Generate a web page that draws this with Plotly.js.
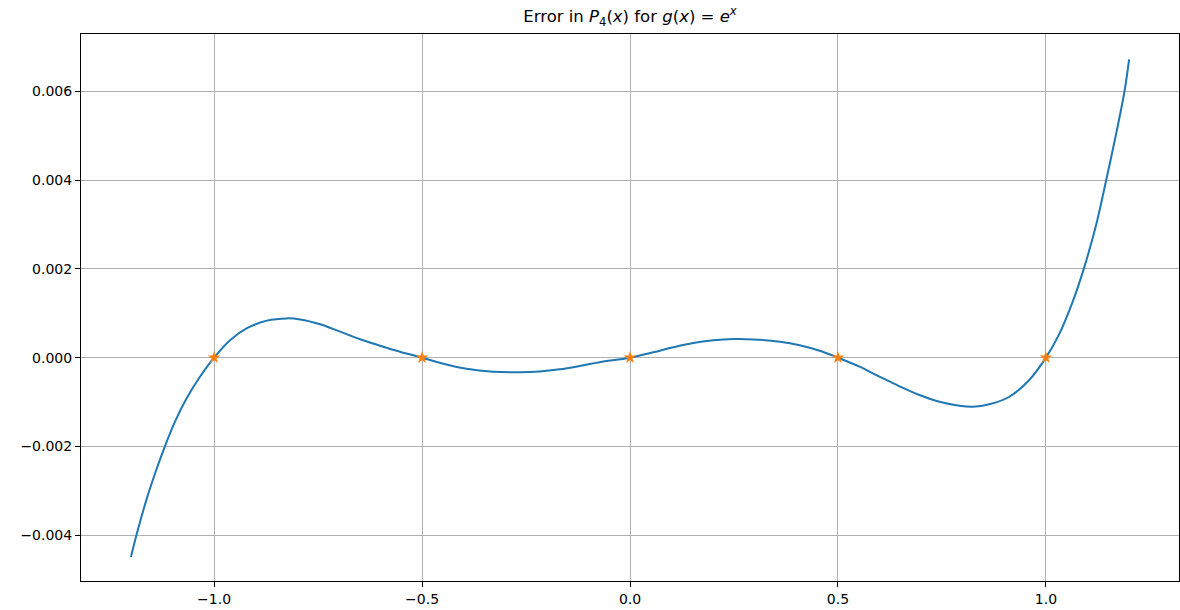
<!DOCTYPE html>
<html>
<head>
<meta charset="utf-8">
<script src="https://cdn.plot.ly/plotly-3.0.1.min.js"></script>
<style>
  html, body { margin: 0; padding: 0; background: #ffffff; }
  #chart { width: 1180px; height: 610px; }
</style>
</head>
<body>
<div id="chart"></div>
<script>
// Error curve e^x - P4(x), sampled along x
const errX = [-1.2, -1.186, -1.162, -1.141, -1.118, -1.094, -1.066, -1.034, -1.0,
  -0.961, -0.921, -0.873, -0.825, -0.793, -0.745, -0.697, -0.649, -0.601, -0.553, -0.5,
  -0.449, -0.393, -0.329, -0.265, -0.217, -0.169, -0.121, -0.073, 0.0,
  0.056, 0.104, 0.152, 0.2, 0.248, 0.296, 0.36, 0.408, 0.456, 0.5,
  0.552, 0.6, 0.648, 0.696, 0.744, 0.792, 0.824, 0.864, 0.912, 0.96, 1.0,
  1.032, 1.064, 1.091, 1.121, 1.145, 1.169, 1.189, 1.2];
const errY = [-0.00449, -0.00397, -0.00318, -0.00258, -0.00199, -0.00144, -0.000916, -0.00043, 0.0,
  0.000399, 0.000663, 0.000834, 0.000885, 0.000862, 0.000753, 0.000586, 0.000414, 0.00027, 0.000135, 0.0,
  -0.000135, -0.000252, -0.000318, -0.00033, -0.000312, -0.000262, -0.000187, -0.000102, 0.0,
  0.000121, 0.000234, 0.000331, 0.000391, 0.00042, 0.000412, 0.00036, 0.00028, 0.000155, 0.0,
  -0.000203, -0.000428, -0.000645, -0.000841, -0.000992, -0.001082, -0.001105, -0.00105, -0.00088, -0.000503, 0.0,
  0.00053, 0.00125, 0.00200, 0.00300, 0.00400, 0.00505, 0.00600, 0.00672];

// Interpolation nodes, where the error vanishes
const nodeX = [-1.0, -0.5, 0.0, 0.5, 1.0];
const nodeY = [0, 0, 0, 0, 0];

const xTicks = [-1.0, -0.5, 0.0, 0.5, 1.0];
const yTicks = [-0.004, -0.002, 0.0, 0.002, 0.004, 0.006];

const font = 'DejaVu Sans, sans-serif';

const traces = [
  {
    x: errX, y: errY, type: 'scatter', mode: 'lines',
    line: { color: '#1f77b4', width: 2, shape: 'spline', smoothing: 1 },
    hoverinfo: 'skip', showlegend: false
  },
  {
    x: nodeX, y: nodeY, type: 'scatter', mode: 'markers',
    marker: { symbol: 'star', size: 9.5, color: '#ff7f0e', line: { width: 0 } },
    hoverinfo: 'skip', showlegend: false
  }
];

const axisCommon = {
  showline: true, mirror: true, linecolor: '#000000', linewidth: 1,
  ticks: 'outside', ticklen: 5, tickwidth: 1, tickcolor: '#000000',
  showgrid: true, gridcolor: '#b0b0b0', gridwidth: 1,
  zeroline: false,
  tickfont: { family: font, size: 14, color: '#000000' }
};

const layout = {
  width: 1180, height: 610,
  paper_bgcolor: '#ffffff', plot_bgcolor: '#ffffff',
  margin: { l: 81, r: 1, t: 34, b: 29, pad: 0 },
  title: {
    text: 'Error in <i>P</i><sub>4</sub>(<i>x</i>) for <i>g</i>(<i>x</i>) = <i>e</i><sup><i>x</i></sup>',
    font: { family: font, size: 16.5, color: '#000000' },
    x: 0.5, xref: 'paper', xanchor: 'center',
    y: 0.973, yref: 'container', yanchor: 'middle'
  },
  xaxis: Object.assign({}, axisCommon, {
    range: [-1.32, 1.32],
    tickmode: 'array', tickvals: xTicks,
    ticktext: xTicks.map(v => (v < 0 ? '\u2212' : '') + Math.abs(v).toFixed(1))
  }),
  yaxis: Object.assign({}, axisCommon, {
    range: [-0.00503, 0.00729],
    tickmode: 'array', tickvals: yTicks,
    ticktext: yTicks.map(v => (v < 0 ? '\u2212' : '') + Math.abs(v).toFixed(3))
  })
};

Plotly.newPlot('chart', traces, layout, { displayModeBar: false, staticPlot: true });
</script>
</body>
</html>
